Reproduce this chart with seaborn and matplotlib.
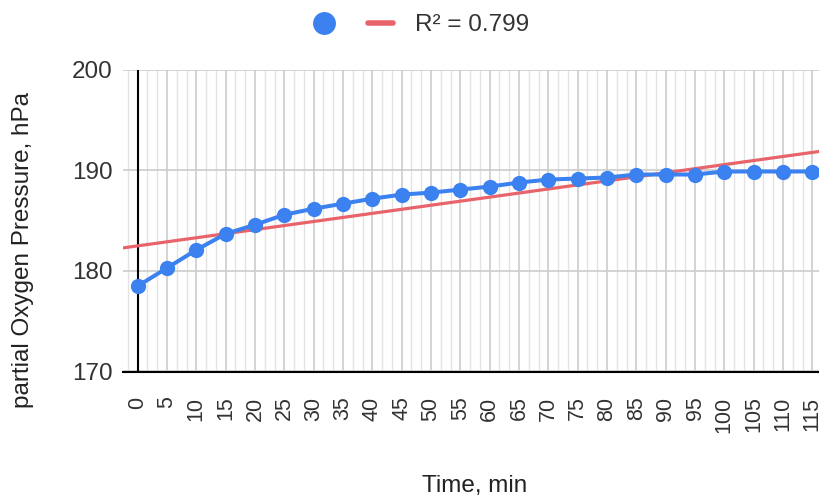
import numpy as np
import pandas as pd
import matplotlib
matplotlib.use("Agg")
import matplotlib.pyplot as plt
from matplotlib.ticker import MultipleLocator
from matplotlib.lines import Line2D
import seaborn as sns

# ---- data ----
time_min = [0, 5, 10, 15, 20, 25, 30, 35, 40, 45, 50, 55, 60, 65, 70, 75,
            80, 85, 90, 95, 100, 105, 110, 115]
pressure_hpa = [178.5, 180.3, 182.1, 183.7, 184.6, 185.6, 186.2, 186.7, 187.2,
                187.6, 187.8, 188.1, 188.4, 188.8, 189.1, 189.2, 189.3, 189.6,
                189.6, 189.6, 189.9, 189.9, 189.9, 189.9]
y_ticks = [170, 180, 190, 200]
trend_label = "R\u00b2 = 0.799"
x_title = "Time, min"
y_title = "partial Oxygen Pressure, hPa"

df = pd.DataFrame({"t": time_min, "p": pressure_hpa})

sns.set_style("white")
plt.rcParams["font.family"] = ["Liberation Sans", "DejaVu Sans"]

BLUE = "#3b82f0"
RED = "#e8636a"
TXT = "#333333"

fig = plt.figure(figsize=(8.2, 4.97), dpi=100)
ax = fig.add_axes([123 / 820, 1 - 371.5 / 497, (820 - 123) / 820, (371.5 - 70) / 497])

ax.set_xlim(-2.5, 116.3)
ax.set_ylim(170, 200)

# trendline
sns.regplot(data=df, x="t", y="p", ax=ax, scatter=False, ci=None, truncate=False,
            line_kws=dict(color=RED, lw=2.3, zorder=2.5))
# data
sns.lineplot(data=df, x="t", y="p", ax=ax, color=BLUE, lw=2.9, marker="o",
             markersize=11, markeredgewidth=0, zorder=3)

ax.set_xlim(-2.5, 116.3)
ax.set_ylim(170, 200)

ax.set_xticks(time_min)
ax.set_xticklabels([str(t) for t in time_min], rotation=90, fontsize=15.5, color=TXT)
ax.xaxis.set_minor_locator(MultipleLocator(5 / 3))
ax.set_yticks(y_ticks)
ax.set_yticklabels([str(v) for v in y_ticks], fontsize=17.5, color=TXT)

ax.tick_params(axis="x", which="major", direction="inout", length=16.1, width=1.5,
               color="black", pad=10)
ax.tick_params(axis="x", which="minor", length=0)
ax.tick_params(axis="y", length=0, pad=7.2)

ax.grid(True, which="major", axis="both", color="#cccccc", lw=1.2, zorder=0)
ax.grid(True, which="minor", axis="x", color="#e3e3e3", lw=1.0, zorder=0)
ax.set_axisbelow(True)

for s in ["top", "right", "left"]:
    ax.spines[s].set_visible(False)
ax.spines["bottom"].set_color("black")
ax.spines["bottom"].set_linewidth(1.5)
ax.axvline(0, color="black", lw=1.5, zorder=2)

ax.set_xlabel("")
ax.set_ylabel("")

fig.text(475 / 820, 1 - 492 / 497, x_title, ha="center", va="baseline",
         fontsize=17.5, color="#222222")
fig.text(23 / 820, 1 - 250 / 497, y_title, ha="center", va="center",
         rotation=90, fontsize=17.5, color="#222222")

handles = [Line2D([], [], marker="o", color=BLUE, ls="none", markersize=16.5,
                  markeredgewidth=0),
           Line2D([], [], color=RED, lw=4)]
fig.legend(handles, ["", trend_label], loc="center left",
           bbox_to_anchor=(311 / 820, 1 - 25 / 497), ncol=2, frameon=False,
           fontsize=17.5, handlelength=1.03, handletextpad=0.9,
           columnspacing=0.43, borderpad=0, borderaxespad=0, labelcolor=TXT)

fig.savefig("out.png", dpi=100)
